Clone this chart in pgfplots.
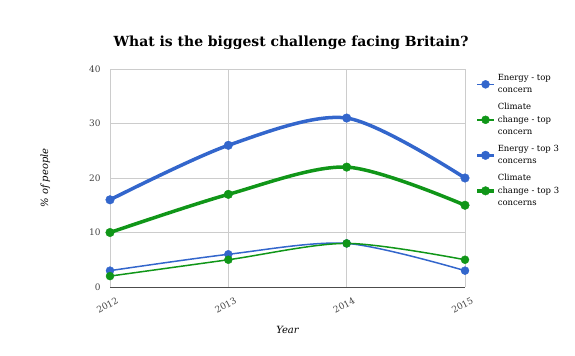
\documentclass[border=0pt]{standalone}
\usepackage{pgfplots}
\pgfplotsset{compat=1.18}
\usepackage{fontspec}
\setmainfont{DejaVu Serif}
\definecolor{cblue}{HTML}{3366CC}
\definecolor{cgreen}{HTML}{109618}
\definecolor{gridc}{HTML}{CCCCCC}
\definecolor{tickc}{HTML}{444444}
\begin{document}
\begin{tikzpicture}
\useasboundingbox (0,0) rectangle (575bp,356bp);
\node[font=\bfseries\fontsize{14}{16}\selectfont] at (291bp,313bp) {What is the biggest challenge facing Britain?};
\begin{axis}[
  at={(110bp,69bp)}, anchor=south west,
  scale only axis, width=355bp, height=218bp,
  xmin=2012, xmax=2015, ymin=0, ymax=40,
  xtick={2012,2013,2014,2015},
  xticklabels={2012,2013,2014,2015},
  ytick={0,10,20,30,40},
  grid=major,
  major grid style={gridc, line width=0.6pt},
  axis line style={gridc},
  axis x line*=bottom, axis y line*=left,
  x axis line style={black!70, line width=0.8pt},
  tick style={draw=none},
  /pgf/number format/assume math mode=true,
  yticklabel style={font=\fontsize{9}{10}\selectfont, text=tickc, xshift=-6bp},
  xticklabel style={font=\fontsize{9}{10}\selectfont, text=tickc, rotate=28, anchor=north east, yshift=-8bp, xshift=4bp},
  xlabel={\itshape Year}, ylabel={\itshape \% of people},
  xlabel style={font=\fontsize{10}{11}\selectfont, at={(0.5,0)}, yshift=-36bp},
  ylabel style={font=\fontsize{10}{11}\selectfont},
  ylabel shift=32bp,
  clip=false,
  legend style={at={(1.02,0.995)}, anchor=north west, draw=none, fill=none,
    font=\fontsize{8.5}{12.5}\selectfont, row sep=5bp,
    nodes={align=left}},
  legend cell align=left,
  every axis plot/.append style={smooth, tension=0.5, mark=*},
]
\addplot[cblue, line width=1.5bp, mark options={solid, line width=0.4pt, mark size=4bp}] coordinates {(2012,3) (2013,6) (2014,8) (2015,3)};
\addlegendentry{Energy - top\\concern}
\addplot[cgreen, line width=1.5bp, mark options={solid, line width=0.4pt, mark size=4bp}] coordinates {(2012,2) (2013,5) (2014,8) (2015,5)};
\addlegendentry{Climate\\change - top\\concern}
\addplot[cblue, line width=3.5bp, mark options={solid, line width=0.4pt, mark size=4.3bp}] coordinates {(2012,16) (2013,26) (2014,31) (2015,20)};
\addlegendentry{Energy - top 3\\concerns}
\addplot[cgreen, line width=3.5bp, mark options={solid, line width=0.4pt, mark size=4.3bp}] coordinates {(2012,10) (2013,17) (2014,22) (2015,15)};
\addlegendentry{Climate\\change - top 3\\concerns}
\end{axis}
\end{tikzpicture}
\end{document}
